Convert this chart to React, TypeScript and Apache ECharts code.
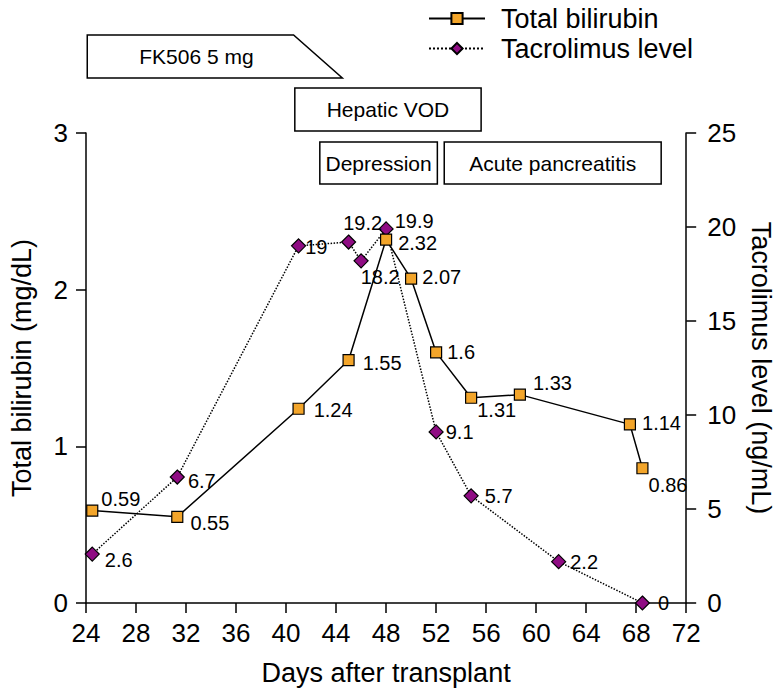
import React, { useEffect, useRef } from 'react';
import * as echarts from 'echarts';

// ---- data ----
const bilirubinDays = [24.5, 31.3, 41, 45, 48, 50, 52, 54.8, 58.7, 67.5, 68.5];
const bilirubinValues = [0.59, 0.55, 1.24, 1.55, 2.32, 2.07, 1.6, 1.31, 1.33, 1.14, 0.86];
const tacrolimusDays = [24.5, 31.3, 41, 45, 46, 48, 52, 54.8, 61.8, 68.5];
const tacrolimusValues = [2.6, 6.7, 19, 19.2, 18.2, 19.9, 9.1, 5.7, 2.2, 0];

const xMin = 24;
const xMax = 72;
const xStep = 4;
const leftMax = 3;
const leftStep = 1;
const rightMax = 25;
const rightStep = 5;

const eventLabels = ['FK506 5 mg', 'Hepatic VOD', 'Depression', 'Acute pancreatitis'];
const eventStarts = [24.1, 40.7, 42.7, 52.65];
const eventEnds = [44.5, 55.6, 52.1, 70.0];
const eventTaper = [40.6, null, null, null];
const eventRows = [0, 1, 2, 2];

// ---- label placement (layout only) ----
const bilirubinLabelOffsets = [
  [-2, -12], [2, 6], [4, 1], [3, 3], [1, 3], [0, -2], [0, 0], [-5, 12], [2, -12], [1, -1], [-5, 17],
];
const tacrolimusLabelOffsets = [
  [0, 6], [-2, 4], [-6, 1], [-18, -19], [-13, 16], [-4, -8], [-3, 0], [1, 0], [-1, 0], [3, 0],
];

const FONT = "'Liberation Sans', Arial, Helvetica, sans-serif";
const ORANGE = '#F3A52A';
const PURPLE = '#8F0C83';
const rowTops = [35, 88, 142];
const rowBottoms = [78, 131, 184];

export default function App() {
  const ref = useRef<HTMLDivElement>(null);

  useEffect(() => {
    document.body.style.margin = '0';
    if (!ref.current) return;
    const chart = echarts.init(ref.current, null, { renderer: 'svg' });

    const option: any = {
      animation: false,
      backgroundColor: '#fff',
      textStyle: { fontFamily: FONT },
      grid: { left: 80, right: 87, top: 133, bottom: 93, containLabel: false },
      legend: {
        orient: 'vertical',
        left: 423,
        top: 0,
        itemWidth: 56,
        itemHeight: 14,
        itemGap: 3,
        textStyle: { fontSize: 27, color: '#000', fontFamily: FONT, padding: [0, 0, 0, 11] },
        data: ['Total bilirubin', 'Tacrolimus level'],
      },
      xAxis: {
        type: 'value',
        min: xMin,
        max: xMax,
        interval: xStep,
        name: 'Days after transplant',
        nameLocation: 'middle',
        nameGap: 56,
        nameTextStyle: { fontSize: 27, color: '#000', fontFamily: FONT },
        axisLine: { show: true, onZero: false, lineStyle: { color: '#000', width: 1.5 } },
        axisTick: { show: true, inside: false, length: 10, lineStyle: { color: '#000', width: 1.5 } },
        axisLabel: { fontSize: 26, color: '#000', margin: 17, fontFamily: FONT },
        splitLine: { show: false },
      },
      yAxis: [
        {
          type: 'value',
          position: 'left',
          min: 0,
          max: leftMax,
          interval: leftStep,
          name: 'Total bilirubin (mg/dL)',
          nameLocation: 'middle',
          nameGap: 51,
          nameTextStyle: { fontSize: 27, color: '#000', fontFamily: FONT },
          axisLine: { show: true, lineStyle: { color: '#000', width: 1.5 } },
          axisTick: { show: true, length: 10, lineStyle: { color: '#000', width: 1.5 } },
          axisLabel: { fontSize: 26, color: '#000', margin: 18, fontFamily: FONT },
          splitLine: { show: false },
        },
        {
          type: 'value',
          position: 'right',
          min: 0,
          max: rightMax,
          interval: rightStep,
          name: 'Tacrolimus level (ng/mL)',
          nameLocation: 'middle',
          nameRotate: -90,
          nameGap: 59,
          nameTextStyle: { fontSize: 27, color: '#000', fontFamily: FONT },
          axisLine: { show: true, lineStyle: { color: '#000', width: 1.5 } },
          axisTick: { show: true, length: 10, lineStyle: { color: '#000', width: 1.5 } },
          axisLabel: { fontSize: 26, color: '#000', margin: 21, fontFamily: FONT },
          splitLine: { show: false },
        },
      ],
      series: [
        {
          type: 'line',
          name: 'Tacrolimus level',
          yAxisIndex: 1,
          symbol: 'diamond',
          symbolSize: 14,
          itemStyle: { color: PURPLE, borderColor: '#000', borderWidth: 1.2 },
          lineStyle: { color: '#000', width: 1.5, type: 'dotted' },
          label: {
            show: true,
            position: 'right',
            distance: 5,
            fontSize: 20,
            color: '#000',
            fontFamily: FONT,
            formatter: (p: any) => String(p.value[1]),
          },
          data: tacrolimusDays.map((d, i) => ({
            value: [d, tacrolimusValues[i]],
            label: { offset: tacrolimusLabelOffsets[i] },
          })),
          z: 2,
        },
        {
          type: 'line',
          name: 'Total bilirubin',
          yAxisIndex: 0,
          symbol: 'rect',
          symbolSize: 11,
          itemStyle: { color: ORANGE, borderColor: '#000', borderWidth: 1.2 },
          lineStyle: { color: '#000', width: 1.5, type: 'solid' },
          label: {
            show: true,
            position: 'right',
            distance: 5,
            fontSize: 20,
            color: '#000',
            fontFamily: FONT,
            formatter: (p: any) => String(p.value[1]),
          },
          data: bilirubinDays.map((d, i) => ({
            value: [d, bilirubinValues[i]],
            label: { offset: bilirubinLabelOffsets[i] },
          })),
          z: 3,
        },
      ],
    };

    chart.setOption(option);

    const px = (d: number) => chart.convertToPixel({ xAxisIndex: 0 }, d) as number;
    const graphics: any[] = [];
    eventLabels.forEach((lab, i) => {
      const x0 = px(eventStarts[i]);
      const x1 = px(eventEnds[i]);
      const top = rowTops[eventRows[i]];
      const bot = rowBottoms[eventRows[i]];
      const taper = eventTaper[i];
      let textX = (x0 + x1) / 2;
      if (taper != null) {
        const xt = px(taper);
        graphics.push({
          type: 'polygon',
          shape: { points: [[x0, top], [xt, top], [x1, bot], [x0, bot]] },
          style: { fill: '#fff', stroke: '#000', lineWidth: 1.5 },
        });
        textX = (x0 + xt) / 2 + 6;
      } else {
        graphics.push({
          type: 'rect',
          shape: { x: x0, y: top, width: x1 - x0, height: bot - top },
          style: { fill: '#fff', stroke: '#000', lineWidth: 1.5 },
        });
      }
      graphics.push({
        type: 'text',
        x: textX,
        y: (top + bot) / 2,
        style: {
          text: lab,
          fontSize: 21,
          fontFamily: FONT,
          fill: '#000',
          align: 'center',
          verticalAlign: 'middle',
        },
      });
    });
    chart.setOption({ graphic: graphics });

    return () => chart.dispose();
  }, []);

  return <div ref={ref} style={{ width: 782, height: 696 }} />;
}
